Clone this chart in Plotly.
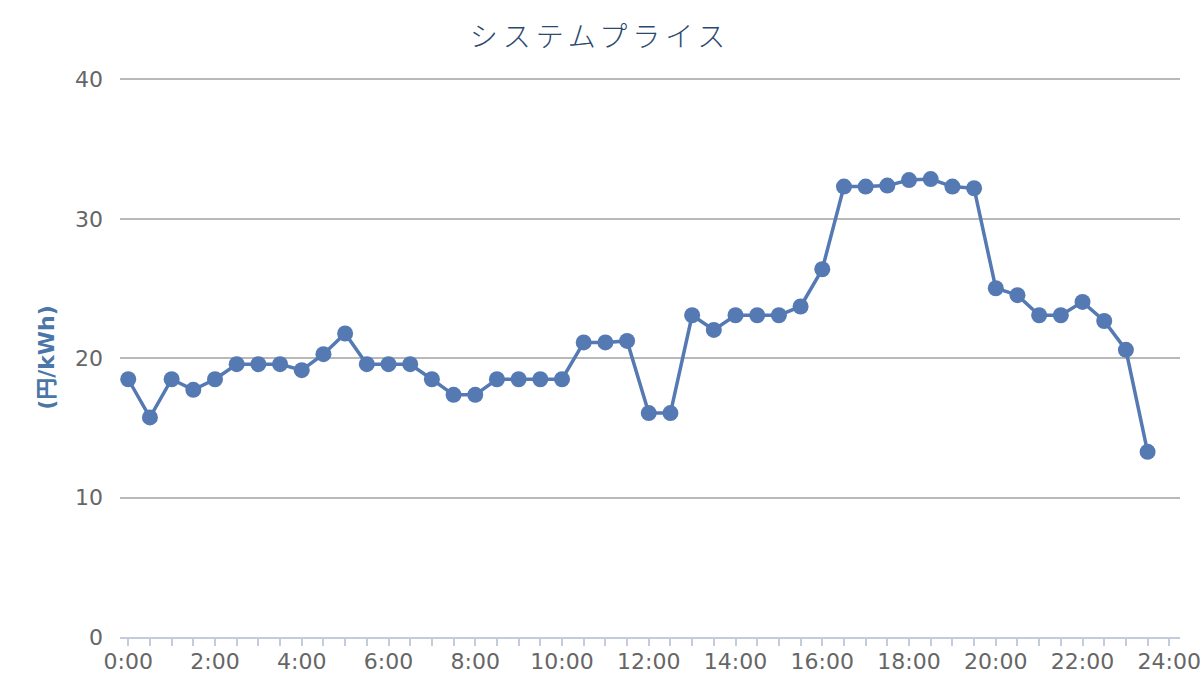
import plotly.graph_objects as go

# Half-hourly system price (円/kWh), 0:00 .. 23:30
slot_hours = [i * 0.5 for i in range(48)]
prices = [
    18.49, 15.75, 18.49, 17.73, 18.49, 19.57, 19.57, 19.57, 19.14, 20.29,
    21.77, 19.57, 19.57, 19.57, 18.49, 17.37, 17.37, 18.49, 18.49, 18.49,
    18.49, 21.13, 21.13, 21.24, 16.06, 16.06, 23.08, 22.03, 23.08, 23.08,
    23.08, 23.71, 26.38, 32.31, 32.31, 32.38, 32.78, 32.85, 32.31, 32.19,
    25.02, 24.52, 23.08, 23.08, 24.04, 22.67, 20.60, 13.28,
]
tick_hours = [i * 0.5 for i in range(49)]
tick_labels = [f"{int(h)}:00" if (h % 2 == 0) else "" for h in tick_hours]
y_ticks = [0, 10, 20, 30, 40]

title_text = "システムプライス"
y_title = "(円/kWh)"

line_color = "#5479b3"
axis_color = "#c3cbdd"

fig = go.Figure()
fig.add_trace(go.Scatter(
    x=slot_hours, y=prices, mode="lines+markers",
    line=dict(color=line_color, width=3.5),
    marker=dict(color=line_color, size=16),
    showlegend=False,
))

fig.update_layout(
    width=1200, height=700,
    paper_bgcolor="white", plot_bgcolor="white",
    margin=dict(l=120, r=20, t=78, b=63),
    title=dict(
        text=f'<span style="letter-spacing:5px">{title_text}</span>',
        x=0.5, xanchor="center", y=0.947, yanchor="middle",
        font=dict(family="Noto Sans CJK JP", size=28, color="#2c4a6e", weight=300),
    ),
    font=dict(family="DejaVu Sans, Noto Sans CJK JP"),
)
fig.update_xaxes(
    range=[-0.19, 24.247], automargin=False,
    tickmode="array", tickvals=tick_hours, ticktext=tick_labels,
    ticks="outside", ticklen=7, tickwidth=1.5, tickcolor=axis_color,
    showline=True, linecolor=axis_color, linewidth=2,
    showgrid=False, zeroline=False,
    ticklabeloverflow="allow", ticklabelstandoff=-3,
    tickfont=dict(size=22, color="#666666"),
)
fig.update_yaxes(
    range=[0, 40.1], tickmode="array", tickvals=y_ticks,
    showgrid=True, gridcolor="#b9b9b9", gridwidth=1.5,
    zeroline=False, showline=False, ticks="",
    ticklabelstandoff=16,
    tickfont=dict(size=22, color="#666666"),
    title=dict(text=f"<b>{y_title}</b>", standoff=14,
               font=dict(size=22, color="#4a76a8", family="DejaVu Sans, Noto Sans CJK JP")),
)

fig.write_html("out.html", config={"displayModeBar": False},
               post_script="document.body.style.margin='0';")
